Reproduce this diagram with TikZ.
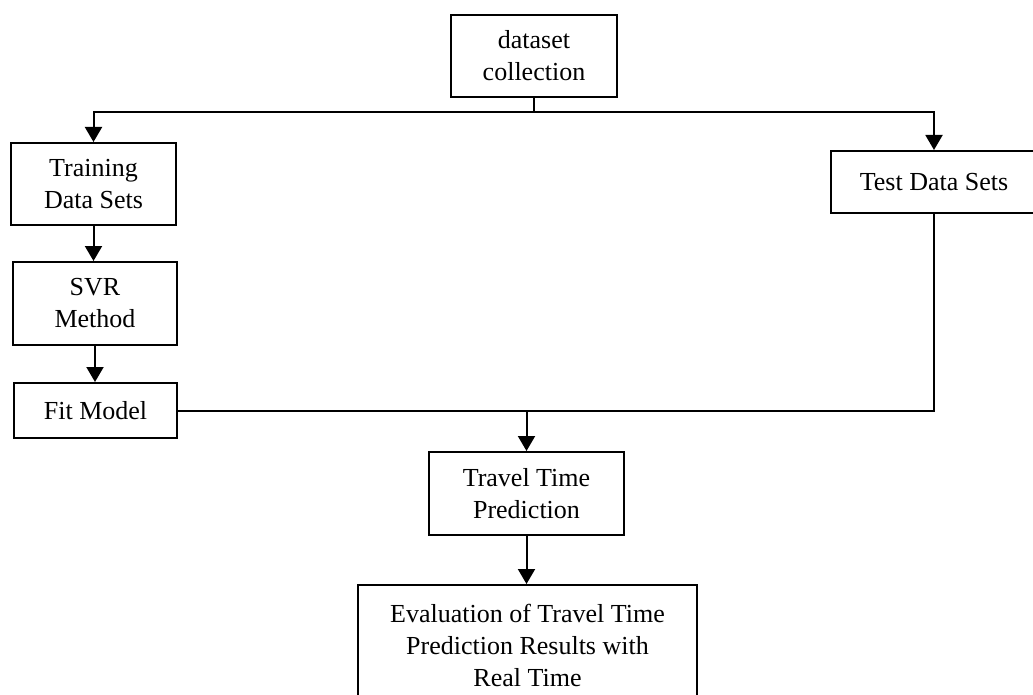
\documentclass[tikz,border=0pt]{standalone}
\usepackage{fontspec}
\setmainfont{Liberation Serif}
\usetikzlibrary{arrows.meta, positioning, calc}
\tikzset{
  %% Process box
  pbox/.style={
    rectangle, draw=black, fill=white,
    align=center, font=\fontsize{26}{32}\selectfont,
    inner sep=2pt, line width=2pt
  },
  %% Arrow
  arr/.style={-{Triangle[length=15pt,width=17pt]},
              draw=black, line width=2pt},
  %% Plain connector
  wire/.style={draw=black, line width=2pt},
}

\begin{document}
\begin{tikzpicture}[x=1pt,y=-1pt]
  \useasboundingbox (0,0) rectangle (1033,695);

  %% ---- Top ----
  \node[pbox, minimum width=166pt, minimum height=82pt] (dc) at (534,56)
       {dataset\\collection};

  %% ---- Training branch (left) ----
  \node[pbox, minimum width=165pt, minimum height=82pt] (train) at (93.5,184)
       {Training\\Data Sets};
  \node[pbox, minimum width=164pt, minimum height=83pt] (svr) at (95,303.5)
       {SVR\\Method};
  \node[pbox, minimum width=163pt, minimum height=55pt] (fit) at (95.5,410.5)
       {Fit Model};

  %% ---- Test branch (right) ----
  \node[pbox, minimum width=206pt, minimum height=62pt] (test) at (934,182)
       {Test Data Sets};

  %% ---- Prediction ----
  \node[pbox, minimum width=195pt, minimum height=83pt] (trav) at (526.5,493.5)
       {Travel Time\\Prediction};
  \node[pbox, minimum width=339pt, minimum height=120pt] (eval) at (527.5,645)
       {Evaluation of Travel Time\\Prediction Results with\\Real Time};

  %% Split
  \coordinate (split) at ($(dc.south)+(0,14)$);
  \draw[wire] (dc.south) -- (split);
  \draw[arr] (split) -| (train.north);
  \draw[arr] (split) -| (test.north);

  \foreach \a/\b in {train/svr, svr/fit, trav/eval}
    \draw[arr] (\a.south) -- (\a.south |- \b.north);

  %% Join
  \coordinate (join) at (trav.north |- fit.east);
  \draw[wire] (fit.east) -| (test.south);
  \draw[arr] (join) -- (trav.north);

\end{tikzpicture}
\end{document}
